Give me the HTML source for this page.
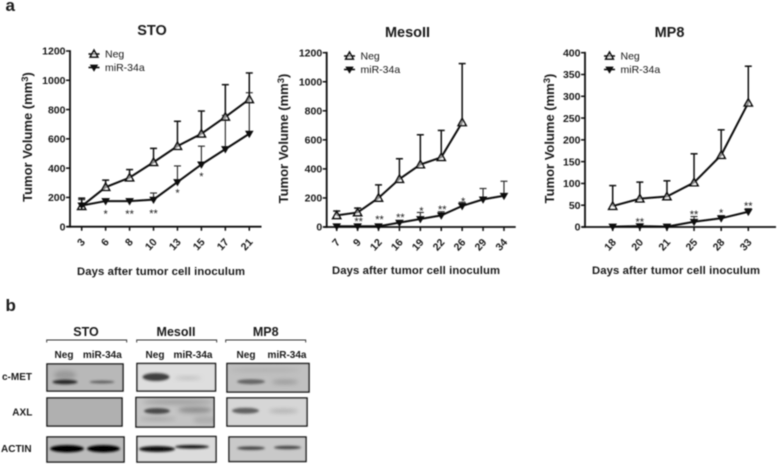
<!DOCTYPE html>
<html>
<head>
<meta charset="utf-8">
<style>
html,body{margin:0;padding:0;background:#fff;}
svg{display:block;}
text{font-family:"Liberation Sans",sans-serif;fill:#1a1a1a;}
</style>
</head>
<body>
<svg id="fig" width="778" height="464" viewBox="0 0 778 464" xmlns="http://www.w3.org/2000/svg">
<defs>
<filter id="soft" x="-5%" y="-5%" width="110%" height="110%"><feGaussianBlur stdDeviation="0.45"/></filter>
<filter id="b1" x="-30%" y="-100%" width="160%" height="300%"><feGaussianBlur stdDeviation="1"/></filter>
<filter id="b2" x="-30%" y="-100%" width="160%" height="300%"><feGaussianBlur stdDeviation="2"/></filter>
</defs>
<g id="root" filter="url(#soft)"></g>
</svg>
<script>
// ---- chart data ----
const stoDays = ['3','6','8','10','13','15','17','21'];
const stoNeg = [140,270,335,440,550,635,750,870];
const stoNegTop = [195,318,390,535,720,790,970,1050];
const stoMir = [145,175,175,185,305,425,530,635];
const stoMirTop = [185,190,190,230,415,550,760,915];
const stoStars = ['','*','**','**','*','*','',''];
const stoStarVals = [0,90,90,95,235,345,0,0];
const stoTicks = [0,200,400,600,800,1000,1200];

const mesoDays = ['7','9','12','16','19','22','26','29','34'];
const mesoNeg = [80,100,200,330,430,480,720];
const mesoNegTop = [110,130,290,470,635,665,1125];
const mesoMir = [5,5,5,30,55,80,145,190,215];
const mesoMirTop = [20,20,20,40,100,105,170,265,315];
const mesoStars = ['','**','**','**','*','**','*','',''];
const mesoStarVals = [0,40,55,70,115,125,180,0,0];
const mesoTicks = [0,200,400,600,800,1000,1200];

const mp8Days = ['18','20','21','25','28','33'];
const mp8Neg = [48,65,70,102,165,285];
const mp8NegTop = [95,103,106,168,223,369];
const mp8Mir = [1,2,1,12,20,35];
const mp8MirTop = [1,2,1,24,26,42];
const mp8Stars = ['','**','','**','*','**'];
const mp8StarVals = [0,13,0,30,33,49];
const mp8Ticks = [0,50,100,150,200,250,300,350,400];

const NS = 'http://www.w3.org/2000/svg';
const root = document.getElementById('root');
function mk(tag, attrs, parent, txt){
  const e = document.createElementNS(NS, tag);
  for (const k in attrs) e.setAttribute(k, attrs[k]);
  if (txt !== undefined) e.textContent = txt;
  (parent || root).appendChild(e);
  return e;
}
function triUp(g, x, y, r){
  mk('path',{d:`M${x} ${y-r}L${x+r} ${y+r*0.8}L${x-r} ${y+r*0.8}Z`,fill:'#fff','fill-opacity':0.55,stroke:'#111','stroke-width':1.6},g);
}
function triDown(g, x, y, r){
  mk('path',{d:`M${x-r} ${y-r*0.7}L${x+r} ${y-r*0.7}L${x} ${y+r}Z`,fill:'#111',stroke:'#111','stroke-width':0.8},g);
}
function drawChart(c){
  const g = mk('g',{});
  
  
  const yS = v => c.y0 - (v / c.yMax) * (c.y0 - c.yTop);
  const xS = i => c.xFirst + i * c.xStep;

  const title = mk('text',{x:c.titleX,y:c.titleY,'text-anchor':'middle','font-size':14.5,'font-weight':'bold'},g,c.title);
  
  

  // axes
  const axes = mk('g',{stroke:'#111','stroke-width':1.8,fill:'none'},g);
  
  
  mk('line',{x1:c.xAxis,y1:c.yTop-0.8,x2:c.xAxis,y2:c.y0+0.9},axes);
  mk('line',{x1:c.xAxis-3,y1:c.y0,x2:c.xEnd,y2:c.y0},axes);

  c.ticks.forEach(t=>{
    const y = yS(t);
    mk('line',{x1:c.xAxis-4,y1:y,x2:c.xAxis,y2:y,stroke:'#111','stroke-width':1.5},g);
    const l = mk('text',{x:c.xAxis-4.5,y:y+3.7,'text-anchor':'end','font-size':10.5,'font-weight':'bold'},g,String(t));
    
    
  });
  c.days.forEach((d,i)=>{
    const x = xS(i);
    mk('line',{x1:x,y1:c.y0,x2:x,y2:c.y0+4,stroke:'#111','stroke-width':1.5},g);
    const l = mk('text',{x:x+1,y:c.y0+17,'text-anchor':'end','font-size':10.5,'font-weight':'bold',transform:`rotate(-48 ${x+1} ${c.y0+13})`},g,d);
    
    
  });

  // y axis title
  const yt = mk('text',{transform:`translate(${c.yTitleX} ${c.yTitleY}) rotate(-90)`,'text-anchor':'middle','font-size':13,'font-weight':'bold'},g);
  
  
  yt.appendChild(document.createTextNode('Tumor Volume (mm'));
  mk('tspan',{dy:-4,'font-size':9.5},yt,'3');
  mk('tspan',{dy:4},yt,')');

  const xt = mk('text',{x:c.xTitleX,y:c.xTitleY,'text-anchor':'middle','font-size':11.3,'font-weight':'bold',textLength:168,lengthAdjust:'spacing'},g,'Days after tumor cell inoculum');
  
  

  // error bars
  const errs = (vals, tops, sw, color, nm) => {
    const eg = mk('g',{stroke:color,'stroke-width':sw},g);
    
    
    vals.forEach((v,i)=>{
      if (tops[i] <= v) return;
      const x = xS(i);
      mk('line',{x1:x,y1:yS(v),x2:x,y2:yS(tops[i])},eg);
      mk('line',{x1:x-3.5,y1:yS(tops[i]),x2:x+3.5,y2:yS(tops[i])},eg);
    });
  };
  errs(c.mir, c.mirTop, 1.2, '#333', c.slug + '-mir-error-bars');
  errs(c.neg, c.negTop, 1.5, '#111', c.slug + '-neg-error-bars');

  // lines
  const line = (vals, nm) => {
    const p = mk('polyline',{points:vals.map((v,i)=>xS(i)+','+yS(v)).join(' '),fill:'none',stroke:'#111','stroke-width':2},g);
    
    
  };
  line(c.neg, c.slug + '-neg-line');
  line(c.mir, c.slug + '-mir-line');
  c.neg.forEach((v,i)=>triUp(g,xS(i),yS(v),4));
  c.mir.forEach((v,i)=>triDown(g,xS(i),yS(v),3.6));

  // significance marks
  c.stars.forEach((s,i)=>{
    if(!s) return;
    const st = mk('text',{x:xS(i)+c.starDx,y:yS(c.starVals[i])+4,'text-anchor':'middle','font-size':11,fill:'#444'},g,s);
    
    
  });

  // legend
  const lg = mk('g',{},g);
  
  
  const lx = c.legendX, ly = c.legendY;
  mk('line',{x1:lx-5.5,y1:ly,x2:lx+5.5,y2:ly,stroke:'#111','stroke-width':1.6},lg);
  triUp(lg,lx,ly,3.8);
  mk('text',{x:lx+11,y:ly+3.7,'font-size':10.5,fill:'#222'},lg,'Neg');
  mk('line',{x1:lx-5.5,y1:ly+13.5,x2:lx+5.5,y2:ly+13.5,stroke:'#111','stroke-width':1.6},lg);
  triDown(lg,lx,ly+13.5,3.5);
  mk('text',{x:lx+11,y:ly+17.2,'font-size':10.5,fill:'#222'},lg,'miR-34a');
}

drawChart({slug:'sto',title:'STO',titleX:152,titleY:35,days:stoDays,neg:stoNeg,negTop:stoNegTop,mir:stoMir,mirTop:stoMirTop,stars:stoStars,starVals:stoStarVals,ticks:stoTicks,yMax:1200,y0:226.7,yTop:51,xAxis:70,xEnd:261.5,xFirst:81.7,xStep:23.94,yTitleX:32,yTitleY:137,xTitleX:161,xTitleY:275,legendX:94,legendY:54,starDx:0});
drawChart({slug:'mesoii',title:'MesoII',titleX:407.5,titleY:37,days:mesoDays,neg:mesoNeg,negTop:mesoNegTop,mir:mesoMir,mirTop:mesoMirTop,stars:mesoStars,starVals:mesoStarVals,ticks:mesoTicks,yMax:1200,y0:227,yTop:52.7,xAxis:326.7,xEnd:515.7,xFirst:336.7,xStep:20.91,yTitleX:288,yTitleY:138.5,xTitleX:416,xTitleY:274,legendX:349.5,legendY:56,starDx:1});
drawChart({slug:'mp8',title:'MP8',titleX:669.5,titleY:37,days:mp8Days,neg:mp8Neg,negTop:mp8NegTop,mir:mp8Mir,mirTop:mp8MirTop,stars:mp8Stars,starVals:mp8StarVals,ticks:mp8Ticks,yMax:400,y0:227,yTop:52.7,xAxis:585,xEnd:776,xFirst:612.7,xStep:27.12,yTitleX:554,yTitleY:138.5,xTitleX:676,xTitleY:274,legendX:609.5,legendY:56,starDx:0});

// ---- panel letters ----
const pa = mk('text',{x:5.5,y:11,'font-size':17,'font-weight':'bold',fill:'#111'},root,'a');


const pb = mk('text',{x:5.5,y:311,'font-size':17,'font-weight':'bold',fill:'#111'},root,'b');



// ---- western blot panel ----
const wb = mk('g',{});


const groups = [
  {name:'STO',cx:86,x1:46.7,x2:126.7,neg:64,mir:102.3},
  {name:'MesoII',cx:176,x1:136.7,x2:216.7,neg:155,mir:193},
  {name:'MP8',cx:265.7,x1:225.7,x2:305.7,neg:246,mir:287}
];
groups.forEach(g=>{
  const t = mk('text',{x:g.cx,y:336,'text-anchor':'middle','font-size':12.5,'font-weight':'bold',fill:'#111'},wb,g.name);
  
  
  mk('path',{d:`M${g.x1} 342.5V340H${g.x2}V342.5`,fill:'none',stroke:'#333','stroke-width':0.9},wb);
  const n = mk('text',{x:g.neg,y:358,'text-anchor':'middle','font-size':10,'font-weight':'bold',fill:'#111'},wb,'Neg');
  
  
  const m = mk('text',{x:g.mir,y:358,'text-anchor':'middle','font-size':10,'font-weight':'bold',fill:'#111'},wb,'miR-34a');
  
  
});
[['c-MET',2,380],['AXL',12.3,415.5],['ACTIN',1,452]].forEach(r=>{
  const t = mk('text',{x:r[1],y:r[2],'font-size':10,'font-weight':'bold',fill:'#111'},wb,r[0]);
  
  
});
// [x,y,w,h,background, bands[[cx,cy,w,h,color,opacity,blur]]]
const blots = [
 [47,364,76,27,'#b8b8b8',[[65,375,22,9,'#909090',.75,2],[65,382,25,4.5,'#1c1c1c',.95,1],[102,382,25,2.8,'#3a3a3a',.75,1]]],
 [137,363.5,78.5,27.5,'#dedede',[[156,377,27,8,'#383838',.95,1],[188,378,26,3,'#aaa',.7,2]]],
 [227,363.5,82,28.5,'#c0c0c0',[[251,381.7,28,5,'#555',.85,1],[285,382,26,5,'#8a8a8a',.65,2],[265,370,70,6,'#a9a9a9',.5,2]]],
 [47,398,75,28,'#b0b0b0',[]],
 [136,397.5,78,29.5,'#c4c4c4',[[157,411,26,6,'#3e3e3e',.9,1],[195,410,34,6,'#7a7a7a',.75,2],[158,419,36,3,'#8a8a8a',.6,2],[178,402,70,6,'#8a8a8a',.55,2],[205,420,24,8,'#999',.5,2]]],
 [227,398,80,28,'#d6d6d6',[[245.5,410.7,27,6,'#555',.9,1],[283.5,411,29,3.6,'#a3a3a3',.85,2]]],
 [47,437,77,25,'#bcbcbc',[[67,448.7,34,7.5,'#050505',1,1],[103.5,448.7,33,7.5,'#050505',1,1]]],
 [137,436.5,79,25.5,'#dcdcdc',[[157,449,36,6,'#070707',1,1],[192,446.8,34,3.6,'#101010',1,1]]],
 [229,437,77,24.5,'#c9c9c9',[[251,448.2,28,3.6,'#3c3c3c',.95,1],[287.5,447.5,27,3.6,'#3c3c3c',.95,1]]]
];
blots.forEach((b,i)=>{
  const g = mk('g',{},wb);
  
  
  const id = 'clip' + i;
  const cp = mk('clipPath',{id:id},g);
  mk('rect',{x:b[0],y:b[1],width:b[2],height:b[3]},cp);
  const inner = mk('g',{'clip-path':`url(#${id})`},g);
  mk('rect',{x:b[0],y:b[1],width:b[2],height:b[3],fill:b[4]},inner);
  b[5].forEach(s=>{
    mk('ellipse',{cx:s[0],cy:s[1],rx:s[2]/2,ry:s[3]/2,fill:s[4],opacity:s[5],filter:s[6]===1?'url(#b1)':'url(#b2)'},inner);
  });
  mk('rect',{x:b[0],y:b[1],width:b[2],height:b[3],fill:'none',stroke:'#1c1c1c','stroke-width':1.5},g);
});
</script>
</body>
</html>
